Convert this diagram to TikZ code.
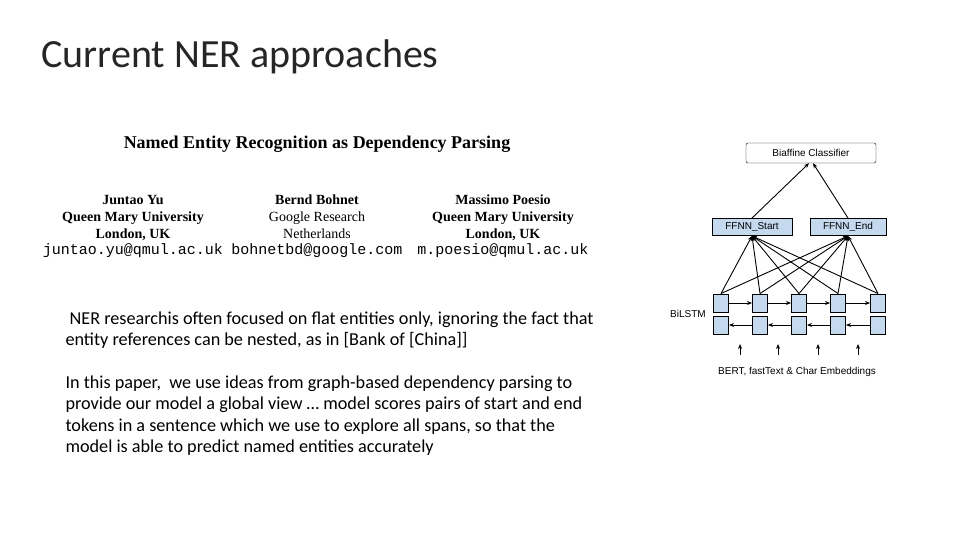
\documentclass[tikz,border=0pt]{standalone}
\usepackage{fontspec}
\setmainfont{Carlito}
\newfontfamily\serifp{Liberation Serif}
\newfontfamily\monop{Liberation Mono}
\newfontfamily\sansp{Liberation Sans}
\usetikzlibrary{arrows.meta}
\definecolor{boxblue}{RGB}{196,216,238}
\begin{document}
\begin{tikzpicture}[x=1pt,y=-1pt,
  cell/.style={draw,line width=0.9pt,fill=boxblue,minimum width=15pt,minimum height=18pt,inner sep=0pt},
  ffnn/.style={draw,line width=0.9pt,fill=boxblue,minimum height=17pt,inner sep=0pt,font=\sansp\fontsize{10}{10}\selectfont},
  arr/.style={-{Stealth[length=5pt,width=4pt]},line width=0.9pt},
  auth/.style={anchor=north,align=center,font=\serifp\fontsize{14}{17}\selectfont},
  mail/.style={font=\monop\fontsize{15}{17}\selectfont}]
\useasboundingbox (0,0) rectangle (960,540);
\node[anchor=west,text=black!85,font=\fontsize{40}{44}\selectfont] (title) at (38,57) {Current NER approaches};
\node[font=\serifp\bfseries\fontsize{18}{20}\selectfont] (ptitle) at (317,144) {Named Entity Recognition as Dependency Parsing};
\node[auth] (a1) at (133,189) {\strut\textbf{Juntao Yu}\\\textbf{Queen Mary University}\\\textbf{London, UK}};
\node[auth] (a2) at (317,189) {\strut\textbf{Bernd Bohnet}\\Google Research\\Netherlands};
\node[auth] (a3) at (503,189) {\strut\textbf{Massimo Poesio}\\\textbf{Queen Mary University}\\\textbf{London, UK}};
\node[mail] (m1) at (133,251) {juntao.yu@qmul.ac.uk};
\node[mail] (m2) at (317,251) {bohnetbd@google.com};
\node[mail] (m3) at (503,251) {m.poesio@qmul.ac.uk};
\node[anchor=north west,align=left,font=\fontsize{18.2}{21.5}\selectfont] (p1) at (62,308) {\ NER researchis often focused on flat entities only, ignoring the fact that\\entity references can be nested, as in [Bank of [China]]};
\node[anchor=north west,align=left,font=\fontsize{18.2}{21.5}\selectfont] (p2) at (62,372) {In this paper,\ \ we use ideas from graph-based dependency parsing to\\provide our model a global view … model scores pairs of start and end\\tokens in a sentence which we use to explore all spans, so that the\\model is able to predict named entities accurately};
% diagram
\node[draw,rounded corners=2pt,minimum width=130pt,minimum height=20pt,inner sep=0pt,font=\sansp\fontsize{10}{10}\selectfont] (bia) at (811,153) {Biaffine Classifier};
\node[ffnn,minimum width=80pt] (fs) at (752,227) {FFNN\_Start};
\node[ffnn,minimum width=76pt] (fe) at (848,227) {FFNN\_End};
\draw[arr] (fs.north) -- ([xshift=-2pt]bia.south);
\draw[arr] (fe.north) -- ([xshift=2pt]bia.south);
\foreach \i/\x in {1/721,2/760,3/799,4/838,5/878}{
  \node[cell] (t\i) at (\x,303) {};
  \node[cell] (b\i) at (\x,325) {};
  \draw[arr] (t\i.north) -- (fs.south);
  \draw[arr] (t\i.north) -- (fe.south);
}
\foreach \i/\j in {1/2,2/3,3/4,4/5}{
  \draw[arr] (t\i.east) -- (t\j.west);
  \draw[arr] (b\j.west) -- (b\i.east);
}
\foreach \k/\x in {1/740,2/778,3/818,4/858}{
  \coordinate (e\k) at (\x,355);
  \coordinate (f\k) at (\x,344);
  \draw[arr] (e\k) -- (f\k);
}
\node[font=\sansp\fontsize{10}{10}\selectfont] (bl) at (688,314) {BiLSTM};
\node[font=\sansp\fontsize{10}{10}\selectfont] (emb) at (797,372) {BERT, fastText \& Char Embeddings};
\end{tikzpicture}
\end{document}
